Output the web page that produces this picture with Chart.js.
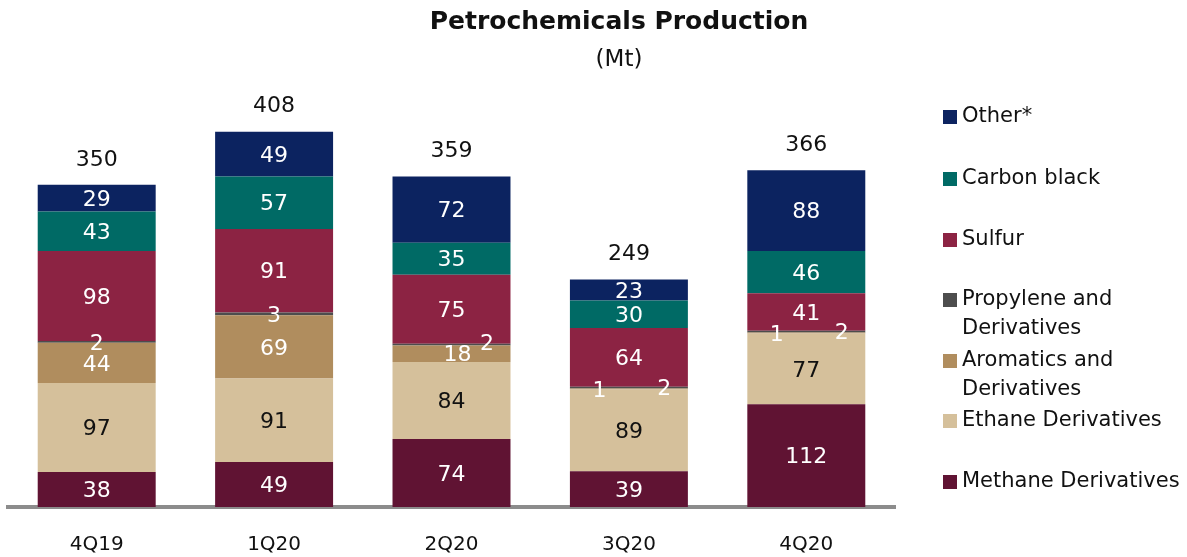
<!DOCTYPE html>
<html lang="en">
<head>
  <meta charset="UTF-8">
  <title>Petrochemicals Production</title>
  <script src="https://cdn.jsdelivr.net/npm/chart.js"></script>
  <style>
    html, body { margin: 0; padding: 0; background: #fff; }
    #wrap { position: relative; width: 1187px; height: 557px; }
  </style>
</head>
<body>
  <div id="wrap"><canvas id="grafico"></canvas></div>
<script>
  // quarters and production per product (Mt)
  var trimestres = ['4Q19', '1Q20', '2Q20', '3Q20', '4Q20'];
  var metano    = [38, 49, 74, 39, 112];
  var etano     = [97, 91, 84, 89, 77];
  var aromaticos = [44, 69, 18, 1, 1];
  var propileno = [2, 3, 2, 2, 2];
  var enxofre   = [98, 91, 75, 64, 41];
  var negroFumo = [43, 57, 35, 30, 46];
  var outros    = [29, 49, 72, 23, 88];
  var totais    = [350, 408, 359, 249, 366];

  var fonte = '"DejaVu Sans", sans-serif';

  var series = [
    { nome: ['Methane Derivatives'], dados: metano, cor: '#601333', texto: '#ffffff' },
    { nome: ['Ethane Derivatives'], dados: etano, cor: '#d5c09b', texto: '#111111' },
    { nome: ['Aromatics and', 'Derivatives'], dados: aromaticos, cor: '#b08d5e', texto: '#ffffff' },
    { nome: ['Propylene and', 'Derivatives'], dados: propileno, cor: '#4d4d4d', texto: '#ffffff' },
    { nome: ['Sulfur'], dados: enxofre, cor: '#8c2343', texto: '#ffffff' },
    { nome: ['Carbon black'], dados: negroFumo, cor: '#006a65', texto: '#ffffff' },
    { nome: ['Other*'], dados: outros, cor: '#0c2360', texto: '#ffffff' }
  ];

  // where small slices put their label: horizontal shift (fraction of bar width), vertical shift (px)
  var deslocamento = {
    '2:2': [0.05, 0], '3:2': [0.3, -2],
    '2:3': [-0.25, 0], '3:3': [0.3, 0],
    '2:4': [-0.25, 0], '3:4': [0.3, 0]
  };

  var datasets = series.map(function (s) {
    return {
      label: s.nome.join(' '),
      data: s.dados,
      backgroundColor: s.cor,
      borderWidth: 0,
      barPercentage: 0.665,
      categoryPercentage: 1.0
    };
  });

  var rotulos = {
    id: 'rotulos',
    afterDatasetsDraw: function (chart) {
      var ctx = chart.ctx;
      ctx.save();
      ctx.textAlign = 'center';
      ctx.textBaseline = 'middle';
      ctx.font = '22px ' + fonte;
      chart.data.datasets.forEach(function (ds, d) {
        var meta = chart.getDatasetMeta(d);
        meta.data.forEach(function (bar, i) {
          var desl = deslocamento[d + ':' + i] || [0, 0];
          ctx.fillStyle = series[d].texto;
          ctx.fillText(ds.data[i], bar.x + desl[0] * bar.width, (bar.y + bar.base) / 2 + desl[1] + 2);
        });
      });
      // totals above each stack
      var topo = chart.getDatasetMeta(chart.data.datasets.length - 1);
      ctx.fillStyle = '#111111';
      topo.data.forEach(function (bar, i) {
        ctx.fillText(totais[i], bar.x, bar.y - 25);
      });
      ctx.restore();
    },
    afterDraw: function (chart) {
      var ctx = chart.ctx;
      ctx.save();
      ctx.fillStyle = '#111111';
      ctx.textAlign = 'center';
      ctx.textBaseline = 'middle';
      ctx.font = 'bold 25px ' + fonte;
      ctx.fillText('Petrochemicals Production', 619, 22);
      ctx.font = '23px ' + fonte;
      ctx.fillText('(Mt)', 619, 60);

      // legend, top entry first
      ctx.textAlign = 'left';
      ctx.font = '21px ' + fonte;
      var ys = [117, 179, 240, 300, 361, 421, 482];
      for (var k = 0; k < series.length; k++) {
        var s = series[series.length - 1 - k];
        var y = ys[k];
        ctx.fillStyle = s.cor;
        ctx.fillRect(943, y - 7, 14, 14);
        ctx.fillStyle = '#111111';
        s.nome.forEach(function (linha, j) {
          ctx.fillText(linha, 962, y + j * 29);
        });
      }
      ctx.restore();
    }
  };

  new Chart(document.getElementById('grafico'), {
    type: 'bar',
    data: { labels: trimestres, datasets: datasets },
    options: {
      responsive: true,
      maintainAspectRatio: false,
      animation: false,
      layout: { padding: { left: 8, right: 292, top: 94, bottom: 0 } },
      plugins: { legend: { display: false }, tooltip: { enabled: false } },
      scales: {
        x: {
          stacked: true,
          grid: { display: false },
          border: { display: true, color: '#8c8c8c', width: 4 },
          ticks: { color: '#111111', font: { family: fonte, size: 20 }, padding: 18 },
          afterFit: function (scale) { scale.height = 50; }
        },
        y: {
          stacked: true,
          display: false,
          min: 0,
          max: 450
        }
      }
    },
    plugins: [rotulos]
  });
</script>
</body>
</html>
